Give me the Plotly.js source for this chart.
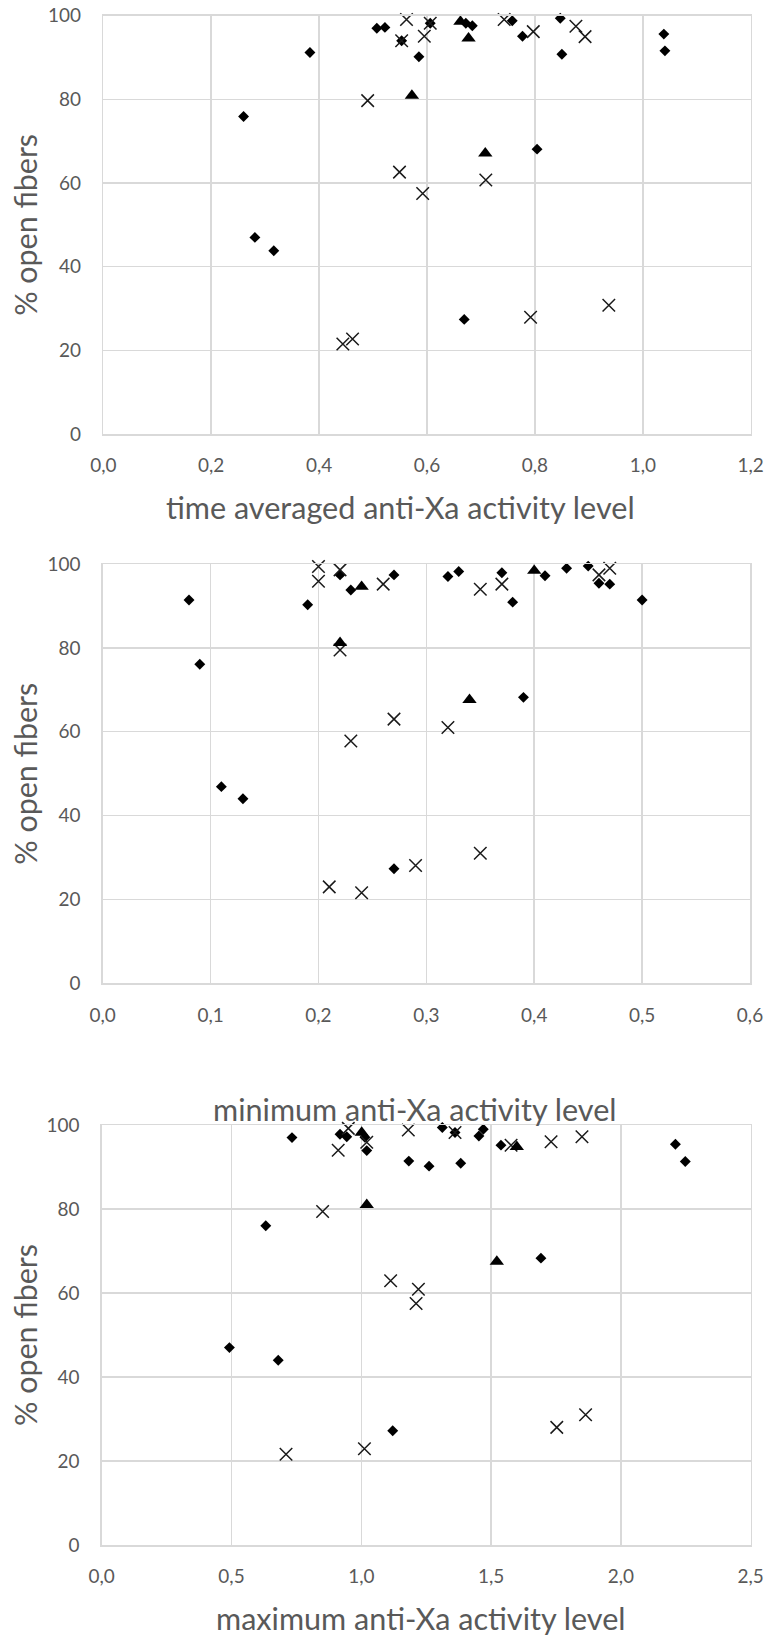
<!DOCTYPE html>
<html>
<head>
<meta charset="utf-8">
<script src="https://cdn.plot.ly/plotly-3.0.1.min.js"></script>
<style>
  html, body { margin: 0; padding: 0; background: #ffffff; }
  #chart { width: 770px; height: 1639px; }
</style>
</head>
<body>
<div id="chart"></div>
<script>
// ---------- data ----------
// Panel 1: time averaged anti-Xa activity level
const avgDiamondX = [0.260, 0.281, 0.316, 0.383, 0.507, 0.522, 0.553, 0.585, 0.606, 0.672, 0.684, 0.669, 0.758, 0.777, 0.804, 0.847, 0.850, 1.039, 1.041];
const avgDiamondY = [75.9, 47.0, 43.8, 91.2, 97.0, 97.2, 94.0, 90.2, 98.2, 98.2, 97.6, 27.4, 98.8, 95.1, 68.1, 99.4, 90.8, 95.6, 91.6];
const avgCrossX = [0.444, 0.462, 0.490, 0.549, 0.553, 0.562, 0.592, 0.595, 0.606, 0.709, 0.743, 0.792, 0.797, 0.876, 0.893, 0.937];
const avgCrossY = [21.5, 22.7, 79.7, 62.6, 94.0, 99.1, 57.5, 95.1, 98.2, 60.7, 99.1, 27.9, 96.2, 97.5, 95.0, 30.8];
const avgTriX = [0.572, 0.662, 0.677, 0.708];
const avgTriY = [80.9, 98.6, 94.6, 67.1];

// Panel 2: minimum anti-Xa activity level
const minDiamondX = [0.08, 0.09, 0.11, 0.13, 0.19, 0.22, 0.23, 0.27, 0.27, 0.32, 0.33, 0.37, 0.38, 0.39, 0.41, 0.43, 0.45, 0.46, 0.47, 0.50];
const minDiamondY = [91.4, 76.1, 46.9, 44.0, 90.3, 97.4, 93.8, 97.4, 27.3, 97.0, 98.2, 97.9, 90.9, 68.2, 97.2, 99.0, 99.5, 95.4, 95.2, 91.4];
const minCrossX = [0.20, 0.20, 0.22, 0.22, 0.26, 0.27, 0.23, 0.21, 0.24, 0.29, 0.35, 0.32, 0.35, 0.37, 0.46, 0.47];
const minCrossY = [99.4, 95.9, 98.6, 79.5, 95.2, 63.0, 57.8, 23.0, 21.6, 28.1, 31.0, 61.0, 94.0, 95.2, 97.4, 99.0];
const minTriX = [0.22, 0.24, 0.34, 0.40];
const minTriY = [81.2, 94.6, 67.6, 98.4];

// Panel 3: maximum anti-Xa activity level
const maxDiamondX = [0.492, 0.632, 0.680, 0.733, 0.918, 0.944, 1.014, 1.021, 1.121, 1.183, 1.261, 1.312, 1.361, 1.383, 1.453, 1.470, 1.538, 1.692, 2.210, 2.248];
const maxDiamondY = [47.0, 76.0, 44.0, 97.0, 97.8, 97.2, 97.1, 93.9, 27.2, 91.4, 90.2, 99.4, 98.2, 90.9, 97.4, 99.0, 95.2, 68.3, 95.4, 91.3];
const maxCrossX = [0.710, 0.851, 0.911, 0.950, 1.012, 1.021, 1.113, 1.181, 1.211, 1.220, 1.361, 1.577, 1.731, 1.753, 1.850, 1.864];
const maxCrossY = [21.6, 79.4, 94.0, 99.2, 22.9, 95.9, 62.9, 98.8, 57.5, 60.9, 98.2, 95.2, 96.0, 28.0, 97.2, 31.0];
const maxTriX = [1.0015, 1.021, 1.522, 1.599];
const maxTriY = [98.2, 81.0, 67.5, 94.8];

const xTitles = ["time averaged anti-Xa activity level", "minimum anti-Xa activity level", "maximum anti-Xa activity level"];
const yTitle = "% open fibers";
const xRanges = [[0, 1.2], [0, 0.6], [0, 2.5]];
const xDticks = [0.2, 0.1, 0.5];

// ---------- styling ----------
const FONT = "Lato, 'Open Sans', sans-serif";
const GRAY = "#595959";
const GRID = "#d9d9d9";

const W = 770, H = 1639;
// plot-area pixel boxes [left, right, top, bottom]
const boxes = [
  [103.3, 750.7, 15.7, 434.0],
  [102.7, 750.0, 564.0, 983.3],
  [101.7, 750.7, 1125.0, 1545.0]
];
const xTitlePos = [[400.5, 507], [415, 1109], [420.7, 1618]];
// target text widths (px) seen in the reference, used to size the substitute font
const xTitleWidths = [477, 402, 406];
const yTitleWidth = 182;
const tickRefWidth = 33; // width of "100"

const ctx = document.createElement("canvas").getContext("2d");
function widthAt(text, size) { ctx.font = size + "px Lato"; return ctx.measureText(text).width; }
let ratioSum = 0;
xTitles.forEach((t, i) => { ratioSum += xTitleWidths[i] / widthAt(t, 30); });
const xTitleSize = Math.max(24, Math.min(40, 30 * ratioSum / 3));
const yTitleSize = Math.max(24, Math.min(40, 30 * yTitleWidth / widthAt(yTitle, 30)));
const tickSize = Math.max(15, Math.min(24, 20 * tickRefWidth / widthAt("100", 20)));

function trace(x, y, i, marker) {
  return { x: x, y: y, type: "scatter", mode: "markers",
    xaxis: i ? "x" + (i + 1) : "x", yaxis: i ? "y" + (i + 1) : "y",
    cliponaxis: false, hoverinfo: "x+y", marker: marker };
}
const mDiamond = { symbol: "diamond", size: 8.4, color: "#000000", line: { width: 0 } };
const mCross = { symbol: "x-thin-open", size: 12.5, color: "#1a1a1a", line: { width: 1.5, color: "#1a1a1a" } };
const mTri = { symbol: "triangle-up", size: 12.5, color: "#000000", line: { width: 0 } };

const data = [
  trace(avgDiamondX, avgDiamondY, 0, mDiamond), trace(avgCrossX, avgCrossY, 0, mCross), trace(avgTriX, avgTriY, 0, mTri),
  trace(minDiamondX, minDiamondY, 1, mDiamond), trace(minCrossX, minCrossY, 1, mCross), trace(minTriX, minTriY, 1, mTri),
  trace(maxDiamondX, maxDiamondY, 2, mDiamond), trace(maxCrossX, maxCrossY, 2, mCross), trace(maxTriX, maxTriY, 2, mTri)
];

const layout = {
  width: W, height: H,
  margin: { l: 0, r: 0, t: 0, b: 0 },
  paper_bgcolor: "#ffffff", plot_bgcolor: "#ffffff",
  showlegend: false,
  separators: ",.",
  font: { family: FONT, color: GRAY },
  annotations: []
};

boxes.forEach((b, i) => {
  const sx = i ? String(i + 1) : "";
  layout["xaxis" + sx] = {
    domain: [b[0] / W, b[1] / W],
    anchor: "y" + sx,
    range: xRanges[i], dtick: xDticks[i], tick0: 0, tickformat: ".1f",
    showgrid: true, gridcolor: GRID, gridwidth: 1.5,
    zeroline: false, showline: true, linecolor: GRID, linewidth: 1.5, mirror: true,
    ticks: "", ticklabelstandoff: 14,
    tickfont: { family: FONT, size: tickSize, color: GRAY },
    fixedrange: true
  };
  layout["yaxis" + sx] = {
    domain: [1 - b[3] / H, 1 - b[2] / H],
    anchor: "x" + sx,
    range: [0, 100], dtick: 20, tick0: 0,
    showgrid: true, gridcolor: GRID, gridwidth: 1.5,
    zeroline: false, showline: true, linecolor: GRID, linewidth: 1.5, mirror: true,
    ticks: "", ticklabelstandoff: 17,
    tickfont: { family: FONT, size: tickSize, color: GRAY },
    fixedrange: true
  };
  layout.annotations.push({
    text: xTitles[i], xref: "paper", yref: "paper",
    x: xTitlePos[i][0] / W, y: 1 - xTitlePos[i][1] / H,
    xanchor: "center", yanchor: "middle", showarrow: false,
    font: { family: FONT, size: xTitleSize, color: GRAY }
  });
  layout.annotations.push({
    text: yTitle, xref: "paper", yref: "paper",
    x: 25 / W, y: 1 - ((b[2] + b[3]) / 2) / H,
    xanchor: "center", yanchor: "middle", showarrow: false, textangle: -90,
    font: { family: FONT, size: yTitleSize, color: GRAY }
  });
});

Plotly.newPlot("chart", data, layout, { displayModeBar: false, staticPlot: true });
</script>
</body>
</html>
